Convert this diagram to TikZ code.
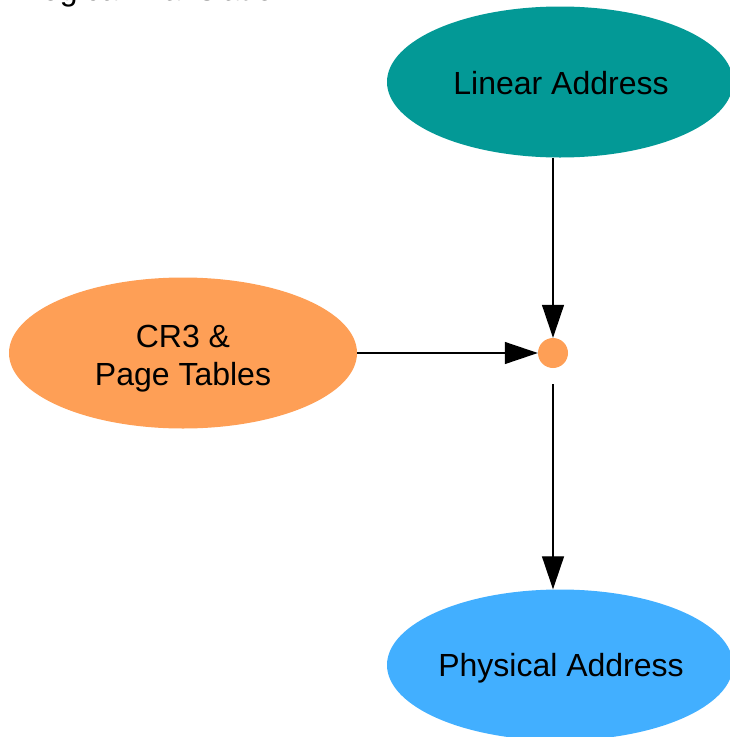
\documentclass[tikz,border=0pt]{standalone}
\usepackage{fontspec}
\setmainfont{Liberation Sans}
\usetikzlibrary{arrows.meta,shapes.geometric}

\definecolor{tealfill}{RGB}{3,153,150}
\definecolor{orangefill}{RGB}{254,159,86}
\definecolor{bluefill}{RGB}{66,175,255}

\tikzset{
  blob/.style={ellipse, draw=none, minimum width=346pt, minimum height=151pt,
    inner sep=0pt, align=center, text=black},
  caption/.style={inner sep=0pt, align=center, text=black,
    font=\fontsize{32}{38}\selectfont},
  joint/.style={circle, fill=orangefill, draw=none, minimum size=30pt, inner sep=0pt},
  link/.style={line width=1.3pt, -{Triangle[length=33pt,width=22pt]}},
}

\begin{document}
\begin{tikzpicture}[x=1pt,y=-1pt]
  \useasboundingbox (0,0) rectangle (729,737);

  % caption along the top edge
  \node[caption, anchor=base west] (title) at (24,0.3) {Logical Translation};

  \node[blob, fill=tealfill] (linear) at (560,82) {};
  \node[caption] (lineartext) at (561,83) {Linear Address};

  \node[blob, fill=orangefill, minimum width=348pt] (cr3) at (183,353) {};
  \node[caption] (cr3text) at (183,359) {CR3 \&\\Page Tables};

  \node[joint] (mix) at (553,353) {};

  \node[blob, fill=bluefill] (phys) at (560,665) {};
  \node[caption] (phystext) at (561,668) {Physical Address};

  \coordinate (mixout) at (553,384);

  \draw[link] (linear.south -| mix) -- (mix.north);
  \draw[link] (cr3.east) -- (mix.west);
  \draw[link] (mixout) -- (phys.north -| mix);
\end{tikzpicture}
\end{document}
